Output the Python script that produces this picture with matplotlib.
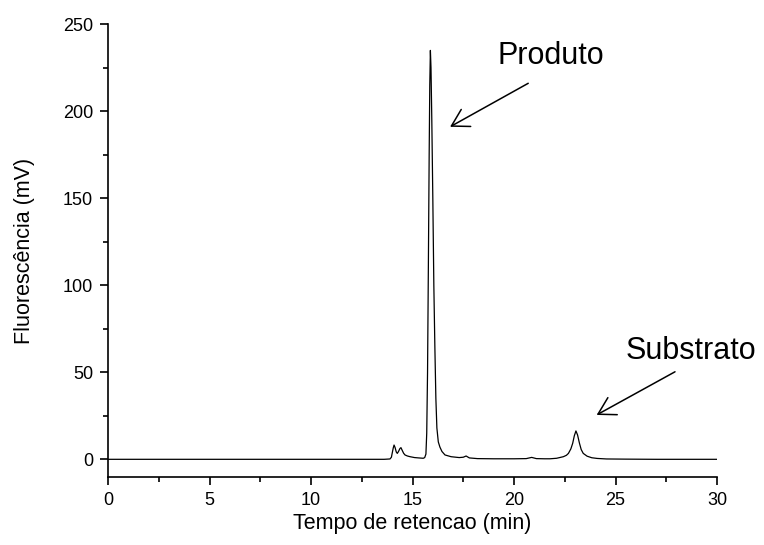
import matplotlib
matplotlib.use("Agg")
import matplotlib.pyplot as plt
from matplotlib.ticker import MultipleLocator

plt.rcParams['font.family'] = ['Liberation Sans', 'DejaVu Sans']

# Chromatogram: retention time (min) and fluorescence (mV)
time_min = [0.0, 5.0, 10.0, 13.6, 13.89, 13.96, 14.0, 14.05, 14.09, 14.14, 14.2, 14.25,
            14.31, 14.38, 14.43, 14.49, 14.56, 14.63, 14.75, 14.88, 15.1, 15.3, 15.53,
            15.6, 15.66, 15.7, 15.74, 15.78, 15.82, 15.85, 15.88, 15.91, 15.95, 16.0,
            16.05, 16.1, 16.15, 16.2, 16.27, 16.35, 16.45, 16.6, 16.9, 17.3, 17.5,
            17.64, 17.8, 18.2, 19.0, 20.0, 20.6, 20.87, 21.1, 21.5, 21.77, 22.1, 22.43,
            22.58, 22.68, 22.8, 22.89, 22.97, 23.05, 23.13, 23.22, 23.31, 23.41, 23.6,
            23.83, 24.1, 24.56, 25.5, 27.0, 30.0]
signal_mv = [0.0, 0.0, 0.0, 0.0, 0.2, 1.2, 3.6, 6.5, 8.2, 6.8, 4.2, 3.4,
             4.5, 6.2, 6.7, 5.2, 3.5, 2.5, 1.9, 1.5, 1.0, 0.8, 0.6,
             1.0, 3.0, 15.0, 50.0, 110.0, 175.0, 215.0, 235.0, 225.0, 195.0, 150.0,
             100.0, 65.0, 35.0, 18.0, 10.0, 7.0, 4.5, 2.5, 1.5, 1.0, 1.2,
             1.9, 0.8, 0.4, 0.3, 0.3, 0.4, 1.1, 0.4, 0.3, 0.3, 0.6, 1.5,
             2.3, 3.4, 6.0, 9.2, 13.5, 16.3, 14.0, 9.4, 5.6, 3.4, 1.8,
             0.9, 0.5, 0.2, 0.1, 0.0, 0.0]

x_ticks = [0, 5, 10, 15, 20, 25, 30]
y_ticks = [0, 50, 100, 150, 200, 250]

fig = plt.figure(figsize=(7.64, 5.45), dpi=100)
ax = fig.add_axes([0.1414, 0.1253, 0.7971, 0.8301])

ax.plot(time_min, signal_mv, color='black', lw=0.9)

ax.set_xlim(0, 30)
ax.set_ylim(-10, 250)
ax.set_xticks(x_ticks)
ax.set_yticks(y_ticks)
ax.xaxis.set_minor_locator(MultipleLocator(2.5))
ax.yaxis.set_minor_locator(MultipleLocator(25))

for s in ['top', 'right']:
    ax.spines[s].set_visible(False)
for s in ['left', 'bottom']:
    ax.spines[s].set_linewidth(1.2)

ax.tick_params(which='major', direction='out', length=5.8, width=1.2, labelsize=13, pad=5)
ax.tick_params(which='minor', direction='out', length=3.6, width=1.2)

ax.set_xlabel('Tempo de retencao (min)', fontsize=15.5, labelpad=3)
ax.set_ylabel('Fluorescência (mV)', fontsize=15.5, labelpad=20)

arrow = dict(arrowstyle='->,head_length=0.6,head_width=0.35', color='black', lw=1.1,
             mutation_scale=20, shrinkA=0, shrinkB=0)
ax.annotate('', xy=(16.85, 191.1), xytext=(20.70, 216.1), arrowprops=arrow)
ax.text(19.21, 227, 'Produto', fontsize=22, ha='left', va='baseline')
ax.annotate('', xy=(24.07, 25.5), xytext=(27.93, 50.3), arrowprops=arrow)
ax.text(25.52, 57.6, 'Substrato', fontsize=22, ha='left', va='baseline')

fig.savefig('out.png', dpi=100)
